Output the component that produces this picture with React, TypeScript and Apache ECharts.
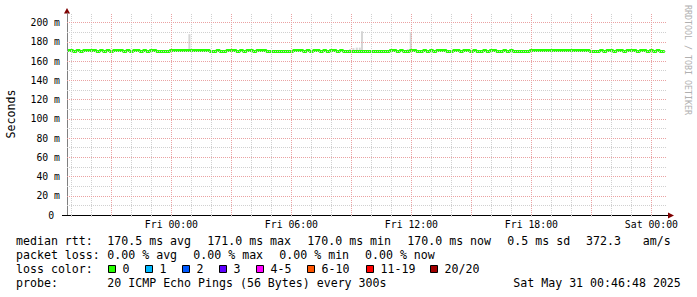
import React, { useEffect, useRef } from 'react';
import * as echarts from 'echarts';

// x values are hours relative to Fri 00:00
const X_MIN = -5.22;
const X_MAX = 24.78;
const Y_MIN = 0;
const Y_MAX = 210;

const xTickHours = [0, 6, 12, 18, 24];
const xTickLabels = ['Fri 00:00', 'Fri 06:00', 'Fri 12:00', 'Fri 18:00', 'Sat 00:00'];

// grid lines (hours / ms)
const minorXHours = [-5, -4, -2, -1, 1, 2, 4, 5, 7, 8, 10, 11, 13, 14, 16, 17, 19, 20, 22, 23];
const majorXHours = [-3, 0, 3, 6, 9, 12, 15, 18, 21, 24];
const minorYValues = [10, 30, 50, 70, 90, 110, 130, 150, 170, 190];
const majorYValues = [20, 40, 60, 80, 100, 120, 140, 160, 180, 200];

// median rtt (ms), one sample every 10 minutes from Thu 18:50
const medianStartHour = -5 - 10 / 60;
const medianStepHour = 1 / 6;
const medianRtt = [
  171, 171, 170, 171, 170, 171, 171, 171, 171, 170, 171, 170, 171, 170, 171, 171, 171,
  170, 171, 170, 171, 171, 170, 171, 170, 171, 171, 170, 170, 170, 170,
  171, 171, 171, 171, 171, 171, 171, 171, 171, 171, 171, 171, 170, 170,
  171, 170, 170, 171, 171, 171, 170, 171, 170, 171, 171, 170, 171, 171, 171,
  170, 170, 170, 170, 170, 170, 170, 170,
  171, 171, 171, 170, 171, 170, 171, 171, 170, 171, 170, 171, 171, 170, 171,
  170, 170, 170, 170, 170, 170, 170, 170, 170, 170, 170, 170, 170, 170,
  171, 171,
  170, 171, 170, 170, 171, 171, 170, 170, 171, 170,
  171, 170, 171, 171, 171, 170, 170, 171, 171, 170,
  171, 171, 170, 171, 170, 170, 171, 170, 171, 171,
  170, 170, 171, 170, 171, 170, 170, 170, 170, 170,
  171, 171, 171, 171, 171, 171, 171, 171, 171, 171, 171, 171, 171, 171, 171, 171, 171, 171,
  170, 170, 170,
  171, 170, 171, 171, 170, 171, 171, 170, 171, 171, 171, 170, 171, 171, 170, 171, 170, 171, 170, 170,
];

// smoke (ping spread) samples: centre hour, low, high (ms)
const smokeHour = [0.9, 8.93, 9.1, 9.27, 9.42, 9.53, 11.82, 11.97];
const smokeLow = [171, 170, 170, 170, 170, 170, 170, 170];
const smokeHigh = [188, 172.5, 173.5, 174, 174, 191, 172.5, 190];

const rttRow = [
  ['median rtt:', 16],
  ['170.5 ms avg', 107.3],
  ['171.0 ms max', 207.3],
  ['170.0 ms min', 307.3],
  ['170.0 ms now', 407.3],
  ['0.5 ms sd', 507.3],
  ['372.3', 586],
  ['am/s', 642.7],
];
const lossRow = [
  ['packet loss:', 16],
  ['0.00 % avg', 107.3],
  ['0.00 % max', 193.3],
  ['0.00 % min', 279.3],
  ['0.00 % now', 365],
];
const lossColorLabels = ['0', '1', '2', '3', '4-5', '6-10', '11-19', '20/20'];
const lossColors = ['#26ff00', '#00b8ff', '#0059ff', '#5e00ff', '#ff00ff', '#ff5500', '#ff0000', '#a10000'];
const lossBoxX = [108, 145, 182, 219, 256, 307, 366, 430];
const probeRow = [
  ['probe:', 16],
  ['20 ICMP Echo Pings (56 Bytes) every 300s', 107.3],
  ['Sat May 31 00:46:48 2025', 513.3],
];

const MONO = 'DejaVu Sans Mono';
const MINOR = '#d0d0d0';
const MAJOR = '#eaa2a2';

export default function App() {
  const ref = useRef<HTMLDivElement>(null);
  useEffect(() => {
    if (!ref.current) return;
    const chart = echarts.init(ref.current, undefined, { renderer: 'svg' });

    const texts: any[] = [];
    const addRow = (row: any[], baseline: number) => {
      row.forEach(([t, x]) => {
        texts.push({
          type: 'text', x, y: baseline - 4,
          style: { text: t, font: `11.6px "${MONO}"`, fill: '#000', textAlign: 'left', textVerticalAlign: 'middle' },
        });
      });
    };
    addRow(rttRow, 245.3);
    addRow(lossRow, 259.3);
    addRow([['loss color:', 16]], 273.3);
    addRow(probeRow, 287.3);
    lossColorLabels.forEach((lab, i) => {
      texts.push({
        type: 'rect', shape: { x: lossBoxX[i] + 0.5, y: 265.5, width: 7, height: 7 },
        style: { fill: lossColors[i], stroke: '#000', lineWidth: 1 },
      });
      texts.push({
        type: 'text', x: lossBoxX[i] + 14.5, y: 269.3,
        style: { text: lab, font: `11.6px "${MONO}"`, fill: '#000', textAlign: 'left', textVerticalAlign: 'middle' },
      });
    });

    const graphic: any[] = [
      ...texts,
      {
        type: 'text', x: 11, y: 114, rotation: Math.PI / 2,
        style: { text: 'Seconds', font: `11.6px "${MONO}"`, fill: '#000', textAlign: 'center', textVerticalAlign: 'middle' },
      },
      {
        type: 'text', x: 688, y: 60, rotation: -Math.PI / 2,
        style: { text: 'RRDTOOL / TOBI OETIKER', font: `8.3px "${MONO}"`, fill: '#b0b0b0', textAlign: 'center', textVerticalAlign: 'middle' },
      },
      { type: 'line', shape: { x1: 62, y1: 215.5, x2: 67, y2: 215.5 }, style: { stroke: '#000', lineWidth: 1 } },
      { type: 'line', shape: { x1: 667, y1: 215.5, x2: 670, y2: 215.5 }, style: { stroke: '#000', lineWidth: 1 } },
      { type: 'polygon', shape: { points: [[64, 13.5], [70, 13.5], [67, 8]] }, style: { fill: '#7f0000' } },
      { type: 'polygon', shape: { points: [[668, 212.5], [668, 218.5], [674, 215.5]] }, style: { fill: '#7f0000' } },
    ];

    const gridLineSeries = (xs: number[], ys: number[], color: string, z: number) => ({
      type: 'line', xAxisIndex: 0, yAxisIndex: 0, z, data: [], symbol: 'none', silent: true,
      markLine: {
        silent: true, symbol: ['none', 'none'], animation: false,
        label: { show: false },
        lineStyle: { color, type: [1, 1], width: 1 },
        emphasis: { disabled: true },
        data: [...xs.map((h) => ({ xAxis: h })), ...ys.map((v) => ({ yAxis: v }))],
      },
    });

    chart.setOption({
      animation: false,
      backgroundColor: '#ffffff',
      grid: { left: 67, right: 30, top: 13, bottom: 82, containLabel: false, outerBoundsMode: 'none' },
      xAxis: {
        type: 'value', min: X_MIN, max: X_MAX, splitNumber: 30,
        axisLine: { show: true, onZero: false, lineStyle: { color: '#000', width: 1 } },
        axisTick: { show: true, length: 2, lineStyle: { color: MINOR } },
        splitLine: { show: false },
        axisLabel: {
          show: true, margin: 4, color: '#000', fontFamily: MONO, fontSize: 9.8,
          showMinLabel: false, showMaxLabel: false,
          formatter: (v: number) => {
            const k = xTickHours.findIndex((h) => Math.abs(h - v) < 1e-6);
            return k >= 0 ? xTickLabels[k] : '';
          },
        },
      },
      yAxis: {
        type: 'value', min: Y_MIN, max: Y_MAX, interval: 20,
        axisLine: { show: true, onZero: false, lineStyle: { color: '#808080', width: 1 } },
        axisTick: { show: false },
        splitLine: { show: false },
        axisLabel: {
          show: true, margin: 7, color: '#000', fontFamily: MONO, fontSize: 9.8,
          showMaxLabel: false,
          formatter: (v: number) => (v === 0 ? '0\u00a0' : `${v} m`),
        },
      },
      series: [
        gridLineSeries(minorXHours, minorYValues, MINOR, 1),
        gridLineSeries(majorXHours, majorYValues, MAJOR, 1.5),
        {
          type: 'custom', xAxisIndex: 0, yAxisIndex: 0, z: 2, silent: true,
          data: smokeHour.map((h, i) => [h, smokeLow[i], smokeHigh[i]]),
          renderItem: (_p: any, api: any) => {
            const h = api.value(0);
            const a = api.coord([h - 0.05, api.value(2)]);
            const b = api.coord([h + 0.05, api.value(1)]);
            return {
              type: 'rect',
              shape: { x: a[0], y: a[1], width: b[0] - a[0], height: b[1] - a[1] },
              style: { fill: '#d6d6d6' },
            };
          },
        },
        {
          type: 'line', xAxisIndex: 0, yAxisIndex: 0, z: 3, step: 'middle',
          symbol: 'none', showSymbol: false, silent: true,
          data: medianRtt.map((v, i) => [medianStartHour + i * medianStepHour, v]),
          lineStyle: { color: '#26ff00', width: 3 },
        },
      ],
      graphic,
    });
    return () => chart.dispose();
  }, []);
  return <div ref={ref} style={{ width: 697, height: 297, position: 'absolute', left: 0, top: 0 }} />;
}
